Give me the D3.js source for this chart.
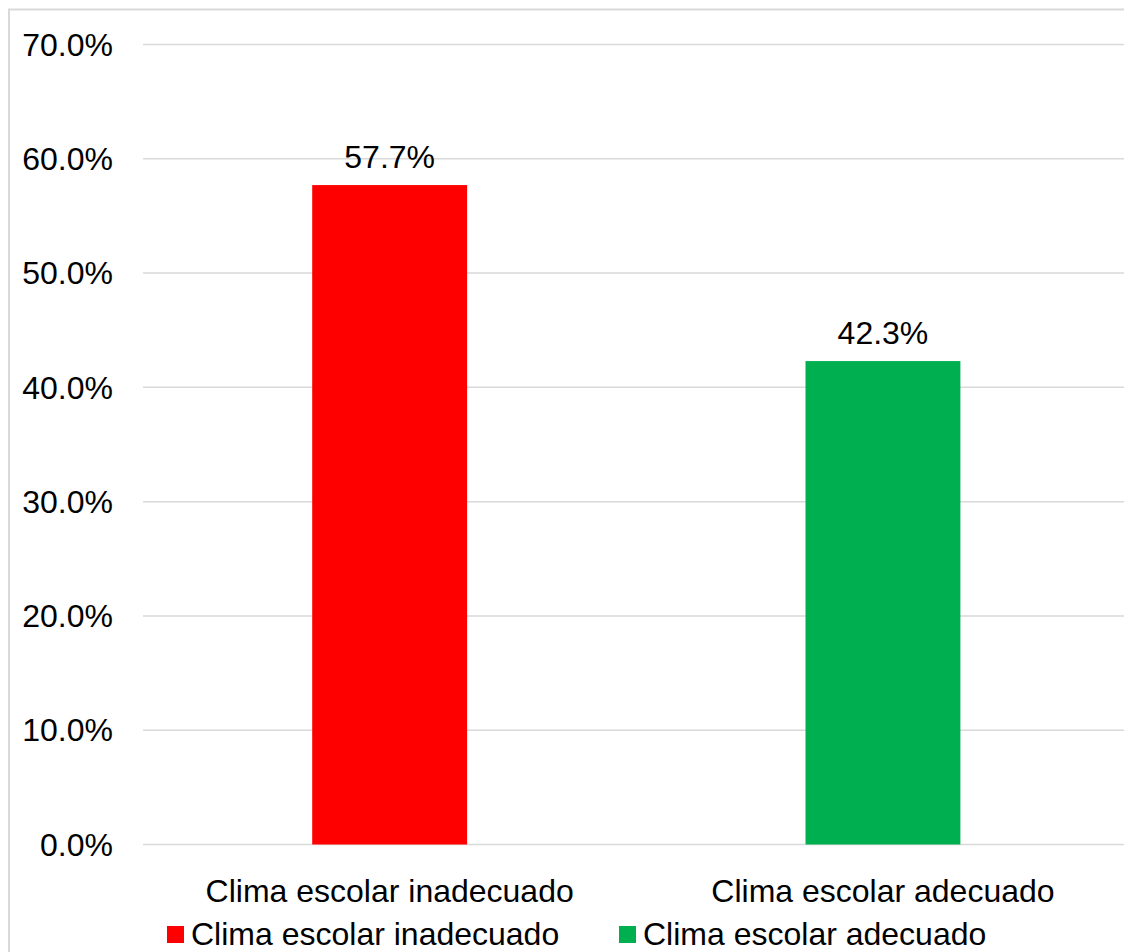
<!DOCTYPE html>
<html><head><meta charset="utf-8">
<script src="https://cdn.jsdelivr.net/npm/d3@7"></script>
<style>body{margin:0;background:#fff}svg{display:block;font-family:"Liberation Sans",Arial,sans-serif}</style>
</head><body><svg id="c" width="1124" height="952"></svg>
<script>
const categories = ["Clima escolar inadecuado", "Clima escolar adecuado"];
const values = [0.577, 0.423];
const colors = ["#ff0000", "#00b050"];
const yTicks = [0, 0.1, 0.2, 0.3, 0.4, 0.5, 0.6, 0.7];

(function () {
const svg = d3.select("#c");
const fs = 32;
// chart border
svg.append("rect").attr("x", 9).attr("y", 9.5).attr("width", 1140).attr("height", 960)
  .attr("fill", "none").attr("stroke", "#d9d9d9").attr("stroke-width", 2);

const pLeft = 143, pRight = 1129.6, pTop = 44.5, pBottom = 844.5;
const y = d3.scaleLinear().domain([0, 0.7]).range([pBottom, pTop]);
const x = d3.scaleBand().domain(categories).range([pLeft, pRight]).paddingInner(0.686).paddingOuter(0.343);

// gridlines
svg.append("g").selectAll("line").data(yTicks).join("line")
  .attr("x1", pLeft).attr("x2", pRight)
  .attr("y1", d => y(d)).attr("y2", d => y(d))
  .attr("stroke", "#d9d9d9").attr("stroke-width", 1.5);

// y labels
const fmt = d3.format(".1%");
svg.append("g").selectAll("text").data(yTicks).join("text")
  .attr("x", 113).attr("y", d => y(d)).attr("dy", "0.35em")
  .attr("text-anchor", "end").attr("font-size", fs).attr("fill", "#000")
  .text(d => fmt(d));

// bars
svg.append("g").selectAll("rect").data(values).join("rect")
  .attr("x", (d, i) => x(categories[i])).attr("width", x.bandwidth())
  .attr("y", d => y(d)).attr("height", d => y(0) - y(d))
  .attr("fill", (d, i) => colors[i]);

// data labels
svg.append("g").selectAll("text").data(values).join("text")
  .attr("x", (d, i) => x(categories[i]) + x.bandwidth() / 2)
  .attr("y", d => y(d) - 17.5)
  .attr("text-anchor", "middle").attr("font-size", fs).attr("fill", "#000")
  .text(d => fmt(d));

// category labels
svg.append("g").selectAll("text").data(categories).join("text")
  .attr("x", d => x(d) + x.bandwidth() / 2).attr("y", 901.5)
  .attr("text-anchor", "middle").attr("font-size", fs).attr("fill", "#000")
  .text(d => d);

// legend
const legX = [167, 619];
const lg = svg.append("g").selectAll("g").data(categories).join("g")
  .attr("transform", (d, i) => `translate(${legX[i]},0)`);
lg.append("rect").attr("x", 0).attr("y", 926).attr("width", 17).attr("height", 17)
  .attr("fill", (d, i) => colors[i]);
lg.append("text").attr("x", 24).attr("y", 945).attr("font-size", fs).attr("fill", "#000")
  .text(d => d);
})();
</script></body></html>
